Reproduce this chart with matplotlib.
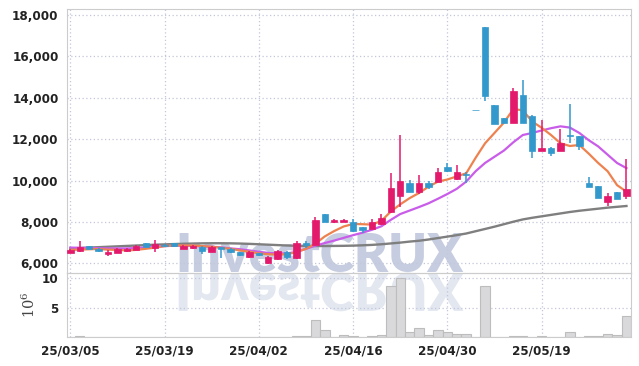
import matplotlib
matplotlib.use('Agg')
import matplotlib.pyplot as plt
import numpy as np
from matplotlib import font_manager
from matplotlib.textpath import TextPath
from matplotlib.patches import PathPatch
from matplotlib.transforms import Affine2D, IdentityTransform

# trading days
dates = ['25/03/05','25/03/06','25/03/07','25/03/10','25/03/11','25/03/12','25/03/13','25/03/14',
         '25/03/17','25/03/18','25/03/19','25/03/20','25/03/21','25/03/24','25/03/25','25/03/26',
         '25/03/27','25/03/28','25/03/31','25/04/01','25/04/02','25/04/03','25/04/04','25/04/07',
         '25/04/08','25/04/09','25/04/10','25/04/11','25/04/14','25/04/15','25/04/16','25/04/17',
         '25/04/18','25/04/21','25/04/22','25/04/23','25/04/24','25/04/25','25/04/28','25/04/29',
         '25/04/30','25/05/02','25/05/07','25/05/08','25/05/09','25/05/12','25/05/13','25/05/14',
         '25/05/15','25/05/16','25/05/19','25/05/20','25/05/21','25/05/22','25/05/23','25/05/26',
         '25/05/27','25/05/28','25/05/29','25/05/30']

opens = [6520, 6610, 6820, 6690, 6470, 6520, 6590, 6650, 6970, 6720,
         6900, 6970, 6700, 6730, 6800, 6560, 6770, 6710, 6540, 6290,
         6480, 6000, 6190, 6560, 6240, 6970, 6890, 8380, 8010, 7990,
         8010, 7740, 7670, 7885, 8465, 9270, 9900, 9460, 9900, 9945,
         10670, 10060, 10330, 13410, 17435, 13650, 13020, 12770, 14130, 13120,
         11430, 11590, 11440, 12200, 12150, 9900, 9735, 8980, 9430, 9250]
highs = [6700, 7080, 6850, 6720, 6660, 6720, 6720, 6900, 6990, 7130,
         6950, 6990, 6870, 6900, 6850, 6820, 6800, 6740, 6560, 6590,
         6500, 6340, 6640, 6600, 7060, 7100, 8260, 8400, 8140, 8130,
         8160, 7750, 8140, 8370, 10350, 12200, 10050, 10270, 9990, 10630,
         10860, 10730, 10400, 13420, 17435, 13650, 13020, 14490, 14860, 13150,
         12925, 11600, 12475, 13685, 12170, 10180, 9750, 9380, 9470, 11025]
lows = [6480, 6560, 6680, 6560, 6360, 6500, 6560, 6620, 6780, 6540,
        6820, 6800, 6680, 6700, 6470, 6540, 6240, 6520, 6350, 6270,
        6370, 5980, 6170, 6200, 6220, 6730, 6880, 8000, 7940, 7980,
        7530, 7480, 7650, 7870, 8420, 8735, 9440, 9350, 9590, 9930,
        10400, 10040, 9900, 13400, 13860, 12730, 12800, 12770, 12800, 11075,
        11430, 11200, 11430, 11830, 11500, 9680, 9160, 8780, 9090, 9100]
closes = [6660, 6800, 6690, 6580, 6560, 6670, 6680, 6820, 6800, 6920,
          6840, 6830, 6840, 6850, 6610, 6790, 6700, 6560, 6380, 6560,
          6390, 6320, 6595, 6290, 6970, 6890, 8090, 8010, 8080, 8100,
          7575, 7610, 7980, 8175, 9625, 9980, 9460, 9900, 9700, 10410,
          10475, 10400, 10290, 13400, 14085, 12730, 12800, 14330, 12800, 11430,
          11590, 11345, 11830, 12150, 11670, 9700, 9170, 9250, 9110, 9590]
# volume, unit 10^6
volume = [0.05, 0.2, 0.04, 0.03, 0.05, 0.03, 0.02, 0.04, 0.03, 0.05,
          0.03, 0.02, 0.03, 0.02, 0.04, 0.03, 0.05, 0.03, 0.04, 0.03,
          0.02, 0.05, 0.04, 0.05, 0.2, 0.25, 3.0, 1.23, 0.1, 0.4,
          0.2, 0.05, 0.2, 0.4, 8.67, 9.96, 0.95, 1.5, 0.4, 1.23,
          0.9, 0.56, 0.56, 0.02, 8.67, 0.1, 0.05, 0.3, 0.3, 0.1,
          0.3, 0.05, 0.1, 0.9, 0.1, 0.3, 0.2, 0.56, 0.4, 3.6]
# moving averages
ma5 = [6650, 6660, 6680, 6690, 6660, 6650, 6620, 6650, 6700, 6760,
       6830, 6870, 6860, 6860, 6830, 6800, 6750, 6700, 6620, 6560,
       6480, 6440, 6420, 6440, 6540, 6700, 6950, 7300, 7560, 7780,
       7900, 7890, 7870, 8050, 8500, 8850, 9150, 9400, 9700, 9950,
       10050, 10200, 10350, 11100, 11800, 12300, 12800, 13450, 13400, 12850,
       12550, 12200, 11800, 11670, 11720, 11300, 10850, 10450, 9780, 9460]
ma20 = [6760, 6750, 6740, 6730, 6720, 6720, 6720, 6740, 6770, 6800,
        6830, 6850, 6850, 6840, 6820, 6800, 6770, 6720, 6680, 6620,
        6560, 6500, 6480, 6480, 6550, 6700, 6850, 6980, 7100, 7230,
        7360, 7480, 7620, 7790, 8100, 8380, 8550, 8720, 8900, 9120,
        9350, 9600, 9950, 10450, 10850, 11150, 11450, 11850, 12200, 12300,
        12420, 12530, 12620, 12560, 12300, 11950, 11650, 11250, 10850, 10600]
ma60 = [6720, 6740, 6760, 6780, 6800, 6820, 6840, 6860, 6880, 6900,
        6915, 6930, 6945, 6955, 6965, 6970, 6970, 6965, 6955, 6940,
        6920, 6900, 6880, 6860, 6845, 6840, 6835, 6835, 6840, 6845,
        6855, 6870, 6890, 6920, 6960, 7000, 7050, 7090, 7150, 7220,
        7290, 7360, 7440, 7550, 7660, 7770, 7890, 8010, 8120, 8200,
        8270, 8340, 8410, 8480, 8540, 8590, 8640, 8690, 8730, 8770]

UP = '#e3196c'
DOWN = '#3399cc'
GRID = '#c3c7d9'

tick_fp = font_manager.FontProperties(family='DejaVu Sans', weight='bold',
                                      stretch='condensed', size=9.5)

fig = plt.figure(figsize=(6.39, 3.66), dpi=100)
fig.patch.set_facecolor('white')
ax = fig.add_axes([67/639, 1-272.7/366, (630.7-67)/639, (272.7-9)/366])
axv = fig.add_axes([67/639, 1-337.3/366, (630.7-67)/639, (337.3-272.7)/366], sharex=ax)
for a in (ax, axv):
    a.set_facecolor('none')
    for s in a.spines.values():
        s.set_color('#cccccc')
    a.grid(True, color=GRID, linestyle=(0, (1, 2)), linewidth=0.9)
    a.set_axisbelow(True)
    a.tick_params(length=0, pad=6, colors='#222222')

x = np.arange(len(dates))
o = np.array(opens); c = np.array(closes)
cols = [UP if cc >= oo else DOWN for oo, cc in zip(o, c)]
ax.vlines(x, lows, highs, colors=cols, linewidth=1.1, zorder=3)
body = np.maximum(np.abs(c - o), 25)
ax.bar(x, body, bottom=np.minimum(o, c), width=0.68, color=cols, edgecolor=cols,
       linewidth=0.5, zorder=4)
ax.plot(x, ma60, color='#7f7f7f', linewidth=1.7, zorder=2)
ax.plot(x, ma20, color='#c95de9', linewidth=1.6, zorder=2)
ax.plot(x, ma5, color='#ee824f', linewidth=1.6, zorder=2)

ax.set_xlim(-0.35, 59.45)
ax.set_ylim(5546, 18291)
yt = [6000, 8000, 10000, 12000, 14000, 16000, 18000]
ax.set_yticks(yt)
ax.set_yticklabels([f'{v:,}' for v in yt], fontproperties=tick_fp)
plt.setp(ax.get_xticklabels(), visible=False)

axv.bar(x, volume, width=1.0, color='#d9d9db', edgecolor='#bdbdbd', linewidth=0.8, zorder=2)
axv.set_ylim(0, 10.9)
axv.set_yticks([5, 10])
axv.set_yticklabels(['5', '10'], fontproperties=tick_fp)
ticks = list(range(0, 60, 10))
axv.set_xticks(ticks)
axv.set_xticklabels([dates[t] for t in ticks], fontproperties=tick_fp)
axv.tick_params(axis='x', pad=5)
axv.set_ylabel(r'$\mathregular{10^6}$', fontsize=10.5, color='#444444', labelpad=3,
               fontfamily='DejaVu Serif')

# watermark + reflection
fp = font_manager.FontProperties(family='Lato', weight='heavy')
tp = TextPath((0, 0), 'InvestCRUX', size=1, prop=fp)
px = 285 / tp.get_extents().width
fig.text(175/639, 1-272/366, 'InvestCRUX', fontproperties=fp, fontsize=px*72/100,
         color='#c6cde0', ha='left', va='baseline', zorder=-2)
tp2 = TextPath((0, 0), 'InvestCRUX', size=px, prop=fp)
refl = tp2.transformed(Affine2D().scale(1, -1).translate(175, 366-273))
fig.add_artist(PathPatch(refl, facecolor='#e3e7f0', edgecolor='none',
                         transform=IdentityTransform(), zorder=-2))

fig.savefig('out.png', dpi=100)
